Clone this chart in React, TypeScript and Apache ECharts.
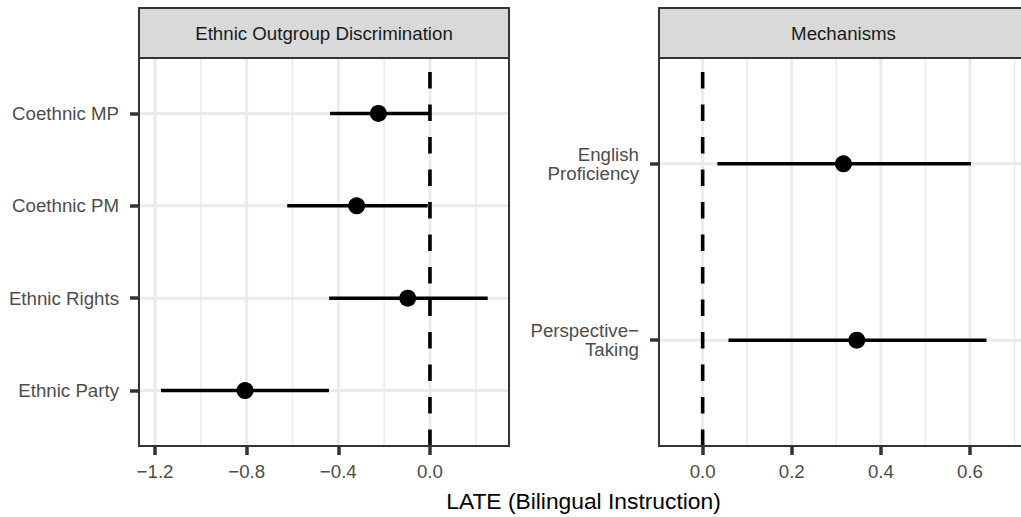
import React, { useEffect, useRef } from "react";
import * as echarts from "echarts";

// Left panel: Ethnic Outgroup Discrimination
const leftCats = ["Coethnic MP", "Coethnic PM", "Ethnic Rights", "Ethnic Party"];
const leftEst = [-0.225, -0.32, -0.097, -0.807];
const leftLo = [-0.436, -0.623, -0.44, -1.174];
const leftHi = [0.0, -0.01, 0.252, -0.441];
const leftMajor = [-1.2, -0.8, -0.4, 0.0];
const leftMinor = [-1.0, -0.6, -0.2, 0.2];

// Right panel: Mechanisms
const rightCats = ["English\nProficiency", "Perspective\u2212\nTaking"];
const rightEst = [0.316, 0.346];
const rightLo = [0.033, 0.058];
const rightHi = [0.602, 0.637];
const rightMajor = [0.0, 0.2, 0.4, 0.6];
const rightMinor = [0.1, 0.3, 0.5, 0.7];

const panelTitles = ["Ethnic Outgroup Discrimination", "Mechanisms"];
const xTitle = "LATE (Bilingual Instruction)";

const FONT = "Liberation Sans, Arial, Helvetica, sans-serif";
const GRID_TOP = 58;
const GRID_H = 388;
// grid = plotted area inside the page; frameW = full panel width (right one runs off the page)
const PANELS = [
  { left: 139, width: 370, frameW: 370, xmin: -1.27, xmax: 0.345 },
  { left: 659, width: 362, frameW: 369, xmin: -0.098, xmax: 0.7145 },
];

const fmt = (v: number) => {
  const s = Math.abs(v) < 1e-9 ? "0.0" : v.toFixed(1);
  return s.replace("-", "\u2212");
};

function vGrid(gridIndex: number, vals: number[], width: number, z: number) {
  return {
    type: "custom",
    xAxisIndex: gridIndex,
    yAxisIndex: gridIndex,
    silent: true,
    z,
    data: vals.map((v) => [v, 1]),
    encode: { x: 0, y: 1 },
    renderItem: (params: any, api: any) => {
      const cs = params.coordSys;
      const px = api.coord([api.value(0), 1])[0];
      return {
        type: "line",
        shape: { x1: px, y1: cs.y, x2: px, y2: cs.y + cs.height },
        style: { stroke: "#EBEBEB", lineWidth: width },
      };
    },
  };
}

function hGrid(gridIndex: number, n: number, z: number) {
  const rows = Array.from({ length: n }, (_, i) => [0, i + 1]);
  return {
    type: "custom",
    xAxisIndex: gridIndex,
    yAxisIndex: gridIndex,
    silent: true,
    z,
    data: rows,
    encode: { x: 0, y: 1 },
    renderItem: (params: any, api: any) => {
      const cs = params.coordSys;
      const py = api.coord([0, api.value(1)])[1];
      return {
        type: "line",
        shape: { x1: cs.x, y1: py, x2: cs.x + cs.width, y2: py },
        style: { stroke: "#EBEBEB", lineWidth: 3 },
      };
    },
  };
}

function zeroLine(gridIndex: number) {
  return {
    type: "custom",
    xAxisIndex: gridIndex,
    yAxisIndex: gridIndex,
    silent: true,
    z: 4,
    data: [[0, 1]],
    encode: { x: 0, y: 1 },
    renderItem: (params: any, api: any) => {
      const cs = params.coordSys;
      const px = api.coord([api.value(0), 1])[0];
      return {
        type: "line",
        shape: { x1: px, y1: cs.y + 14, x2: px, y2: cs.y + cs.height },
        style: { stroke: "#000", lineWidth: 3.6, lineDash: [16.5, 16] },
      };
    },
  };
}

function errBars(gridIndex: number, lo: number[], hi: number[]) {
  return {
    type: "custom",
    xAxisIndex: gridIndex,
    yAxisIndex: gridIndex,
    silent: true,
    z: 5,
    data: lo.map((l, i) => [l, hi[i], i + 1]),
    encode: { x: [0, 1], y: 2 },
    renderItem: (params: any, api: any) => {
      const p1 = api.coord([api.value(0), api.value(2)]);
      const p2 = api.coord([api.value(1), api.value(2)]);
      return {
        type: "line",
        shape: { x1: p1[0], y1: p1[1], x2: p2[0], y2: p2[1] },
        style: { stroke: "#000", lineWidth: 3.5 },
      };
    },
  };
}

function points(gridIndex: number, est: number[]) {
  return {
    type: "scatter",
    xAxisIndex: gridIndex,
    yAxisIndex: gridIndex,
    silent: true,
    z: 6,
    symbol: "circle",
    symbolSize: 17,
    itemStyle: { color: "#000", opacity: 1 },
    data: est.map((v, i) => [v, i + 1]),
  };
}

export default function App() {
  const ref = useRef<HTMLDivElement>(null);
  useEffect(() => {
    if (!ref.current) return;
    const chart = echarts.init(ref.current, null, { renderer: "svg" });
    const majors = [leftMajor, rightMajor];
    const cats = [leftCats, rightCats];
    const xAxes = PANELS.map((p, i) => ({
      type: "value",
      gridIndex: i,
      min: p.xmin,
      max: p.xmax,
      splitLine: { show: false },
      axisLine: { show: false, onZero: false },
      axisTick: {
        show: true,
        length: 9,
        customValues: majors[i],
        lineStyle: { color: "#333333", width: 3.5 },
      },
      axisLabel: {
        show: true,
        customValues: majors[i],
        formatter: (v: number) => fmt(v),
        color: "#4D4D4D",
        fontSize: 18.7,
        fontFamily: FONT,
        margin: 16,
      },
    }));
    const yAxes = PANELS.map((p, i) => {
      const n = cats[i].length;
      const vals = cats[i].map((_, k) => k + 1);
      return {
        type: "value",
        gridIndex: i,
        position: "left",
        inverse: true,
        min: 0.4,
        max: n + 0.6,
        splitLine: { show: false },
        axisLine: { show: false, onZero: false },
        axisTick: {
          show: true,
          length: 9,
          customValues: vals,
          lineStyle: { color: "#333333", width: 3.5 },
        },
        axisLabel: {
          show: true,
          customValues: vals,
          formatter: (v: number) => cats[i][Math.round(v) - 1] ?? "",
          color: "#4D4D4D",
          fontSize: 18.7,
          fontFamily: FONT,
          lineHeight: 19,
          align: "right",
          margin: 20,
        },
      };
    });
    const graphics: any[] = [];
    PANELS.forEach((p, i) => {
      // panel frame
      graphics.push({
        type: "rect",
        shape: { x: p.left, y: GRID_TOP, width: p.frameW, height: GRID_H },
        style: { fill: "none", stroke: "#333333", lineWidth: 2 },
        z: 9,
        silent: true,
      });
      // strip
      graphics.push({
        type: "rect",
        shape: { x: p.left, y: 8, width: p.frameW, height: 50 },
        style: { fill: "#D9D9D9", stroke: "#333333", lineWidth: 2 },
        z: 10,
        silent: true,
      });
      graphics.push({
        type: "text",
        x: p.left + p.frameW / 2,
        y: 33,
        style: {
          text: panelTitles[i],
          fill: "#1A1A1A",
          fontSize: 18.7,
          fontFamily: FONT,
          textAlign: "center",
          textVerticalAlign: "middle",
        },
        z: 11,
        silent: true,
      });
    });
    graphics.push({
      type: "text",
      x: 583.5,
      y: 501,
      style: {
        text: xTitle,
        fill: "#000000",
        fontSize: 22.8,
        fontFamily: FONT,
        textAlign: "center",
        textVerticalAlign: "middle",
      },
      silent: true,
    });
    chart.setOption({
      animation: false,
      backgroundColor: "#FFFFFF",
      grid: PANELS.map((p) => ({
        left: p.left,
        top: GRID_TOP,
        width: p.width,
        height: GRID_H,
        show: false,
        containLabel: false,
      })),
      xAxis: xAxes,
      yAxis: yAxes,
      graphic: graphics,
      series: [
        vGrid(0, leftMinor, 1.5, 1),
        vGrid(0, leftMajor, 3, 2),
        hGrid(0, leftCats.length, 2),
        zeroLine(0),
        errBars(0, leftLo, leftHi),
        points(0, leftEst),
        vGrid(1, rightMinor, 1.5, 1),
        vGrid(1, rightMajor, 3, 2),
        hGrid(1, rightCats.length, 2),
        zeroLine(1),
        errBars(1, rightLo, rightHi),
        points(1, rightEst),
      ],
    });
    return () => chart.dispose();
  }, []);
  return (
    <div
      ref={ref}
      style={{ position: "absolute", left: 0, top: 0, width: 1021, height: 517 }}
    />
  );
}
